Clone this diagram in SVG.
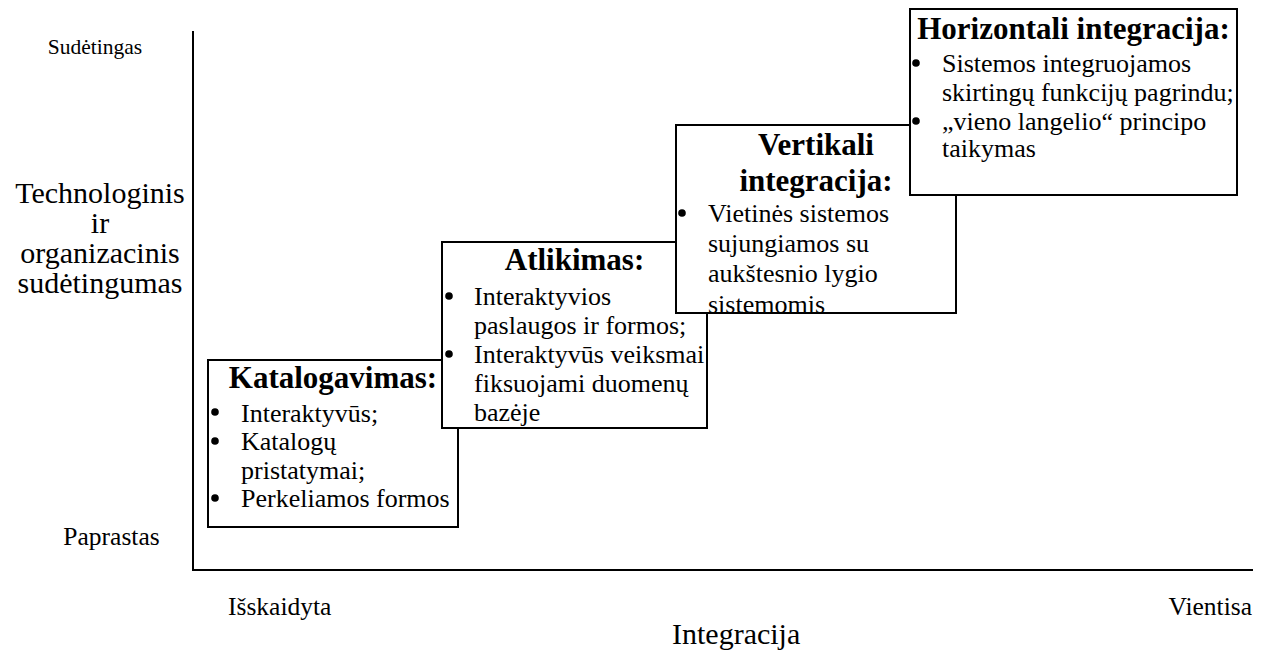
<svg xmlns="http://www.w3.org/2000/svg" width="1267" height="653" viewBox="0 0 1267 653" font-family="'Liberation Serif', serif">
  <style>
    text { font-family: 'Liberation Serif', serif; fill: #000; }
    .small { font-size: 25.5px; }
    .axis-title { font-size: 30px; }
    .head { font-size: 31px; font-weight: bold; text-anchor: middle; }
    .body { font-size: 26px; }
    .box { fill: #fff; stroke: #000; stroke-width: 2; }
    .axis { stroke: #000; stroke-width: 2; fill: none; }
    .dot { fill: #000; }
  </style>
  <defs>
    <clipPath id="clip-kat"><rect x="209" y="361" width="248" height="165"/></clipPath>
    <clipPath id="clip-atl"><rect x="443" y="243" width="263" height="184"/></clipPath>
    <clipPath id="clip-ver"><rect x="677" y="126" width="278" height="186"/></clipPath>
    <clipPath id="clip-hor"><rect x="911" y="10" width="325" height="184"/></clipPath>
  </defs>
  <rect width="1267" height="653" fill="#fff"/>

  <!-- axes -->
  <g id="axes">
    <path class="axis" d="M193 31 V570 H1253"/>
  </g>

  <!-- vertical axis labels -->
  <g id="y-labels">
    <text x="95" y="54" text-anchor="middle" font-size="21.5">Sudėtingas</text>
    <text class="axis-title" x="100" y="203" text-anchor="middle">Technologinis</text>
    <text class="axis-title" x="100" y="233" text-anchor="middle">ir</text>
    <text class="axis-title" x="100" y="263" text-anchor="middle">organizacinis</text>
    <text class="axis-title" x="100" y="293" text-anchor="middle">sudėtingumas</text>
    <text class="small" x="111.5" y="545" text-anchor="middle">Paprastas</text>
  </g>

  <!-- horizontal axis labels -->
  <g id="x-labels">
    <text class="small" x="228" y="615">Išskaidyta</text>
    <text class="small" x="1252" y="615" text-anchor="end">Vientisa</text>
    <text class="axis-title" x="672" y="644">Integracija</text>
  </g>

  <!-- stage 1 -->
  <g id="katalogavimas">
    <rect class="box" x="208" y="360" width="250" height="167"/>
    <g clip-path="url(#clip-kat)">
      <text class="head" x="333" y="388">Katalogavimas:</text>
      <circle class="dot" cx="215" cy="412" r="3.8"/>
      <text class="body" x="241" y="421.5">Interaktyvūs;</text>
      <circle class="dot" cx="215" cy="441" r="3.8"/>
      <text class="body" x="241" y="450">Katalogų</text>
      <text class="body" x="241" y="478.5">pristatymai;</text>
      <circle class="dot" cx="215" cy="498" r="3.8"/>
      <text class="body" x="241" y="507">Perkeliamos formos</text>
    </g>
  </g>

  <!-- stage 2 -->
  <g id="atlikimas">
    <rect class="box" x="442" y="242" width="265" height="186"/>
    <g clip-path="url(#clip-atl)">
      <text class="head" x="574.5" y="270">Atlikimas:</text>
      <circle class="dot" cx="449" cy="296" r="3.8"/>
      <text class="body" x="474" y="305">Interaktyvios</text>
      <text class="body" x="474" y="334">paslaugos ir formos;</text>
      <circle class="dot" cx="449" cy="354" r="3.8"/>
      <text class="body" x="474" y="363">Interaktyvūs veiksmai</text>
      <text class="body" x="474" y="392">fiksuojami duomenų</text>
      <text class="body" x="474" y="421">bazėje</text>
    </g>
  </g>

  <!-- stage 3 -->
  <g id="vertikali-integracija">
    <rect class="box" x="676" y="125" width="280" height="188"/>
    <g clip-path="url(#clip-ver)">
      <text class="head" x="816" y="155">Vertikali</text>
      <text class="head" x="816" y="190.5">integracija:</text>
      <circle class="dot" cx="682" cy="213" r="3.8"/>
      <text class="body" x="708" y="222">Vietinės sistemos</text>
      <text class="body" x="708" y="252">sujungiamos su</text>
      <text class="body" x="708" y="282">aukštesnio lygio</text>
      <text class="body" x="708" y="312.5">sistemomis</text>
    </g>
  </g>

  <!-- stage 4 -->
  <g id="horizontali-integracija">
    <rect class="box" x="910" y="9" width="327" height="186"/>
    <g clip-path="url(#clip-hor)">
      <text class="head" x="1073.5" y="39">Horizontali integracija:</text>
      <circle class="dot" cx="916" cy="63" r="3.8"/>
      <text class="body" x="942" y="72">Sistemos integruojamos</text>
      <text class="body" x="942" y="100.5">skirtingų funkcijų pagrindu;</text>
      <circle class="dot" cx="916" cy="121" r="3.8"/>
      <text class="body" x="942" y="130">„vieno langelio“ principo</text>
      <text class="body" x="942" y="157">taikymas</text>
    </g>
  </g>
</svg>
